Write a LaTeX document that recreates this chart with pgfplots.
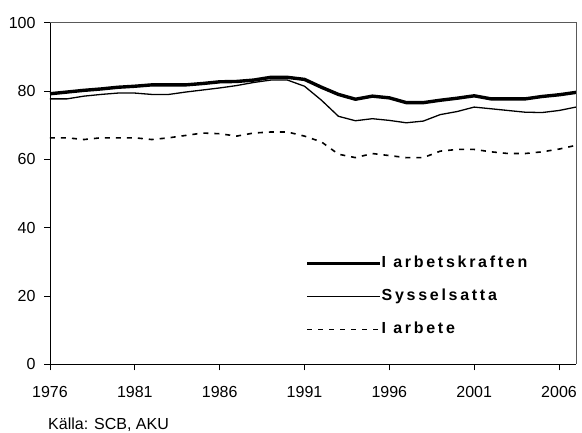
\documentclass[border=0pt]{standalone}
\usepackage{pgfplots}
\pgfplotsset{compat=1.18}
\usepackage{fontspec}
\setmainfont{Liberation Sans}
\newfontfamily\legfont{Liberation Sans Bold}[LetterSpace=17]
\begin{document}
\begin{tikzpicture}
\begin{axis}[
  scale only axis,
  width=526pt, height=341.6pt,
  xmin=1976, xmax=2007, ymin=0, ymax=100,
  axis lines=left,
  axis line style={-, black, line width=0.8pt},
  xtick={1976,1981,1986,1991,1996,2001,2006},
  ytick={0,20,40,60,80,100},
  tick align=outside,
  major tick length=6pt,
  tick style={black, line width=0.8pt},
  /pgf/number format/1000 sep={},
  /pgf/number format/assume math mode=true,
  tick label style={font=\fontsize{16}{18}\selectfont},
  xticklabel style={yshift=-12pt},
  yticklabel style={xshift=-5pt},
  clip=false,
  legend cell align=left,
  legend style={draw=none, fill=none, at={(0.485,0.316)}, anchor=north west,
    font=\fontsize{16}{18}\selectfont\legfont, row sep=19pt,
    nodes={inner sep=0pt, text height=11pt, text depth=3pt},
    inner sep=0pt},
  legend image code/.code={\draw[#1] (0pt,0pt) -- (73pt,0pt);},
]
\addplot[black, line width=3.4pt] table {
1976 79.2
1977 79.7
1978 80.2
1979 80.6
1980 81.1
1981 81.4
1982 81.8
1983 81.8
1984 81.8
1985 82.2
1986 82.7
1987 82.8
1988 83.2
1989 84.0
1990 84.0
1991 83.4
1992 81.1
1993 79.0
1994 77.6
1995 78.5
1996 78.0
1997 76.6
1998 76.6
1999 77.3
2000 77.9
2001 78.6
2002 77.7
2003 77.7
2004 77.7
2005 78.4
2006 78.9
2007 79.6
};
\addlegendentry{I arbetskraften}
\addplot[black, line width=1.3pt] table {
1976 77.7
1977 77.7
1978 78.5
1979 79.0
1980 79.4
1981 79.4
1982 79.0
1983 79.0
1984 79.7
1985 80.3
1986 80.9
1987 81.6
1988 82.5
1989 83.2
1990 83.2
1991 81.4
1992 77.3
1993 72.6
1994 71.3
1995 71.9
1996 71.4
1997 70.7
1998 71.2
1999 73.1
2000 74.0
2001 75.3
2002 74.8
2003 74.3
2004 73.8
2005 73.7
2006 74.3
2007 75.3
};
\addlegendentry{Sysselsatta}
\addplot[black, line width=1.6pt, dash pattern=on 5pt off 6pt] table {
1976 66.3
1977 66.3
1978 65.8
1979 66.3
1980 66.3
1981 66.3
1982 65.8
1983 66.3
1984 67.0
1985 67.7
1986 67.5
1987 66.8
1988 67.7
1989 68.0
1990 68.0
1991 66.8
1992 65.1
1993 61.5
1994 60.5
1995 61.7
1996 61.1
1997 60.5
1998 60.5
1999 62.4
2000 62.9
2001 62.9
2002 62.2
2003 61.7
2004 61.7
2005 62.2
2006 63.0
2007 64.1
};
\addlegendentry{I arbete}
\draw[gray!70!black, line width=0.8pt] (rel axis cs:0,1) -- (rel axis cs:1,1) -- (rel axis cs:1,0);
\end{axis}
\node[anchor=base west, font=\fontsize{16}{18}\selectfont, inner sep=0pt] at (-2pt,-64.7pt) {Källa: SCB, AKU};
\path[use as bounding box] (-50pt,-67.7pt) rectangle (532pt,364.3pt);
\end{tikzpicture}
\end{document}
